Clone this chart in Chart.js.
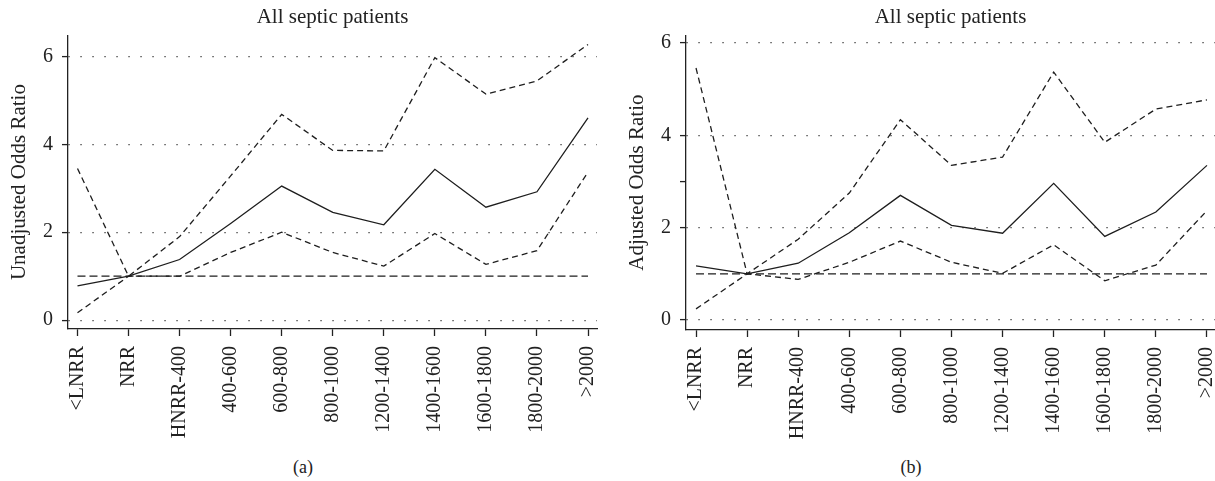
<!DOCTYPE html>
<html>
<head>
<meta charset="utf-8">
<script src="https://cdn.jsdelivr.net/npm/chart.js@4.4.1/dist/chart.umd.min.js"></script>
<style>
html, body { margin: 0; padding: 0; background: #fff; }
#wrap { position: relative; width: 1215px; height: 481px; overflow: hidden; font-family: 'Liberation Serif', serif; }
#graficoA { position: absolute; left: 0; top: 0; }
#graficoB { position: absolute; left: 607px; top: 0; }
.legenda { position: absolute; top: 457px; width: 100px; text-align: center; font-size: 18px; color: #222; }
</style>
</head>
<body>
<div id="wrap">
  <canvas id="graficoA" width="607" height="450"></canvas>
  <canvas id="graficoB" width="608" height="450"></canvas>
  <div class="legenda" style="left:253px">(a)</div>
  <div class="legenda" style="left:861px">(b)</div>
</div>
<script>
// Categorias (rótulos do eixo x)
const categorias = ['<LNRR', 'NRR', 'HNRR-400', '400-600', '600-800', '800-1000',
  '1200-1400', '1400-1600', '1600-1800', '1800-2000', '>2000'];

// (a) odds ratio não ajustado e intervalo de confiança
const orBruto = [0.78, 1.0, 1.38, 2.2, 3.05, 2.45, 2.17, 3.43, 2.57, 2.92, 4.6];
const orBrutoSup = [3.45, 1.0, 1.9, 3.28, 4.68, 3.86, 3.85, 5.97, 5.14, 5.44, 6.27];
const orBrutoInf = [0.17, 1.0, 1.0, 1.54, 2.0, 1.54, 1.23, 1.97, 1.27, 1.58, 3.37];

// (b) odds ratio ajustado e intervalo de confiança
const orAjust = [1.17, 1.0, 1.23, 1.89, 2.7, 2.05, 1.88, 2.96, 1.81, 2.34, 3.35];
const orAjustSup = [5.46, 1.0, 1.75, 2.75, 4.34, 3.35, 3.53, 5.37, 3.85, 4.57, 4.77];
const orAjustInf = [0.24, 1.0, 0.88, 1.25, 1.71, 1.25, 1.01, 1.63, 0.85, 1.19, 2.37];

// Linha de referência (OR = 1)
const valorReferencia = 1;

// Marcas do eixo y
const ticksYA = [0, 2, 4, 6];
const ticksYB = [0, 2, 3, 4, 6];
const ticksSemRotuloB = [3];

const corTexto = '#222';
const corLinha = '#1e1e1e';
Chart.defaults.font.family = "'Liberation Serif', serif";
Chart.defaults.color = corTexto;

function pontos(valores) {
  return valores.map((v, i) => ({ x: i, y: v }));
}

function criarGrafico(id, cfg) {
  const ctx = document.getElementById(id).getContext('2d');
  return new Chart(ctx, {
    type: 'line',
    data: {
      datasets: [
        { data: pontos(cfg.or), borderColor: corLinha, borderWidth: 1.3 },
        { data: pontos(cfg.sup), borderColor: corLinha, borderWidth: 1.3, borderDash: [6, 4] },
        { data: pontos(cfg.inf), borderColor: corLinha, borderWidth: 1.3, borderDash: [6, 4] },
        { data: pontos(categorias.map(() => valorReferencia)), borderColor: corLinha, borderWidth: 1.3, borderDash: [8, 4] }
      ]
    },
    options: {
      responsive: false,
      animation: false,
      layout: { padding: { left: cfg.padEsq, right: cfg.padDir, top: 0, bottom: 0 } },
      elements: { point: { radius: 0 }, line: { tension: 0, fill: false } },
      plugins: {
        legend: { display: false },
        tooltip: { enabled: false },
        title: {
          display: true,
          text: 'All septic patients',
          fullSize: false,
          color: corTexto,
          font: { size: 21, weight: 'normal' },
          padding: { top: 5, bottom: 5 }
        }
      },
      scales: {
        x: {
          type: 'linear',
          min: cfg.xMin,
          max: cfg.xMax,
          afterBuildTicks: s => { s.ticks = categorias.map((c, i) => ({ value: i })); },
          ticks: {
            autoSkip: false,
            minRotation: 90,
            maxRotation: 90,
            padding: 10,
            font: { size: 20 },
            color: corTexto,
            callback: v => categorias[v] ?? ''
          },
          grid: { drawOnChartArea: false, drawTicks: true, tickLength: 7, tickColor: corTexto, tickWidth: 1.3 },
          border: { color: corTexto, width: 1.3 },
          afterFit: s => { s.height = cfg.alturaX; s.paddingLeft = 0; s.paddingRight = 0; }
        },
        y: {
          min: cfg.yMin,
          max: cfg.yMax,
          afterBuildTicks: s => { s.ticks = cfg.ticksY.map(v => ({ value: v })); },
          ticks: {
            padding: 9,
            font: { size: 20 },
            color: corTexto,
            callback: v => cfg.semRotulo.includes(v) ? '' : v
          },
          grid: {
            color: c => (c.tick && cfg.semRotulo.includes(c.tick.value)) ? 'rgba(0,0,0,0)' : '#555',
            lineWidth: 1.2,
            tickLength: 6,
            tickColor: corTexto,
            tickWidth: 1.3
          },
          border: { color: corTexto, width: 1.3, dash: [1.5, 10.5] },
          title: {
            display: true,
            text: cfg.tituloY,
            color: corTexto,
            font: { size: 21 },
            padding: { top: 7, bottom: 0 }
          },
          afterFit: s => { s.width = 68; s.paddingTop = 0; s.paddingBottom = 0; }
        }
      }
    }
  });
}

criarGrafico('graficoA', {
  or: orBruto, sup: orBrutoSup, inf: orBrutoInf,
  tituloY: 'Unadjusted Odds Ratio',
  yMin: -0.2, yMax: 6.48, ticksY: ticksYA, semRotulo: [],
  xMin: -0.186, xMax: 10.176,
  padEsq: 0, padDir: 10, alturaX: 121
});

criarGrafico('graficoB', {
  or: orAjust, sup: orAjustSup, inf: orAjustInf,
  tituloY: 'Adjusted Odds Ratio',
  yMin: -0.217, yMax: 6.17, ticksY: ticksYB, semRotulo: ticksSemRotuloB,
  xMin: -0.196, xMax: 10.157,
  padEsq: 11, padDir: 0, alturaX: 120
});
</script>
</body>
</html>
